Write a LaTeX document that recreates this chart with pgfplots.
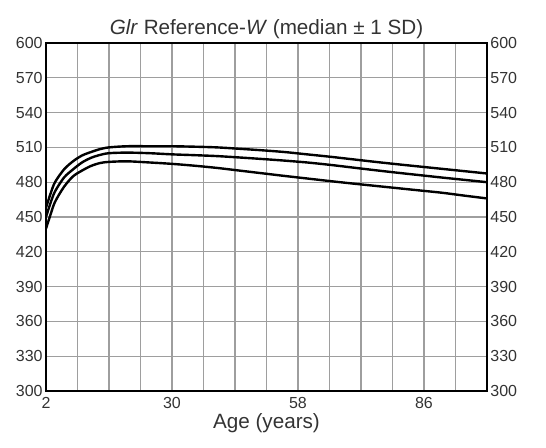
\documentclass[border=0pt]{standalone}
\usepackage{fontspec}
\setmainfont{Liberation Sans}
\usepackage{pgfplots}
\pgfplotsset{compat=1.18}
\definecolor{gridcol}{gray}{0.62}
\definecolor{txtcol}{gray}{0.2}

\pgfplotstableread{
age top mid bot
2   458 450 440
3   470 462 452
4   480 472 463
6   491 484 476
8   498 491 485
10  503 497 490
12  506 501 494
14  508.5 503.5 496.5
16  510 505 497.5
20  511 505.5 498
25  511 505 497
30  511 504 495.8
35  510.6 503.3 494.2
40  510 502.5 492.3
45  508.8 501.3 490.0
50  507.5 500 487.7
55  506 498.6 485.4
60  504 497 483.2
65  502 495 481
70  499.8 492.7 478.9
75  497.6 490.4 476.9
80  495.5 488.2 474.9
85  493.5 486.1 472.9
90  491.5 484 470.9
95  489.5 482 468.4
100 487.5 480 466
}\curves

\begin{document}
\begin{tikzpicture}
\useasboundingbox (-34.5pt,-42.75pt) rectangle (375pt,293.25pt);
\begin{axis}[
  at={(0,0)}, anchor=south west,
  scale only axis, width=330.75pt, height=261pt,
  xmin=2, xmax=100, ymin=300, ymax=600,
  xtick={2,30,58,86},
  minor xtick={9,16,23,37,44,51,65,72,79,93},
  ytick={300,330,...,600},
  grid=both,
  major grid style={gridcol, line width=0.8pt},
  minor grid style={gridcol, line width=0.8pt},
  major tick length=0pt, minor tick length=0pt,
  axis line style={black, line width=1.4pt},
  tick label style={font=\fontsize{12}{14}\selectfont, text=txtcol},
  /pgf/number format/assume math mode=true,
  yticklabel style={xshift=1pt},
  xticklabel style={yshift=-1pt},
  xlabel={Age (years)},
  xlabel style={font=\fontsize{15.5}{17}\selectfont, text=txtcol, yshift=3pt},
  title={\textit{Glr} Reference-\textit{W} (median ± 1 SD)},
  title style={font=\fontsize{15.5}{17}\selectfont, text=txtcol, yshift=-6pt},
]
\addplot[smooth, black, line width=1.8pt] table[x=age, y=top] {\curves};
\addplot[smooth, black, line width=1.8pt] table[x=age, y=mid] {\curves};
\addplot[smooth, black, line width=1.8pt] table[x=age, y=bot] {\curves};
\end{axis}
\begin{axis}[
  at={(0,0)}, anchor=south west,
  scale only axis, width=330.75pt, height=261pt,
  xmin=2, xmax=100, ymin=300, ymax=600,
  axis x line=none, axis y line*=right,
  ytick={300,330,...,600},
  major tick length=0pt,
  axis line style={black, line width=1.4pt},
  tick label style={font=\fontsize{12}{14}\selectfont, text=txtcol},
  /pgf/number format/assume math mode=true,
  yticklabel style={xshift=-1pt},
]
\end{axis}
\end{tikzpicture}
\end{document}
